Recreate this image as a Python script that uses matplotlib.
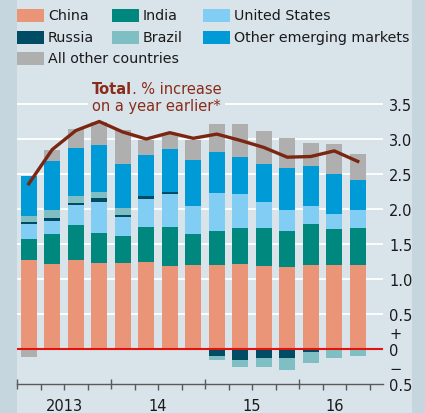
import matplotlib
matplotlib.use('Agg')
import matplotlib.pyplot as plt
import numpy as np
from matplotlib.patches import Rectangle
import matplotlib.transforms as mtransforms

# ---------------- data ----------------
quarters = ['2013Q1', '2013Q2', '2013Q3', '2013Q4',
            '2014Q1', '2014Q2', '2014Q3', '2014Q4',
            '2015Q1', '2015Q2', '2015Q3', '2015Q4',
            '2016Q1', '2016Q2', '2016Q3']
year_labels = ['2013', '14', '15', '16']
year_of_quarter = [0, 0, 0, 0, 1, 1, 1, 1, 2, 2, 2, 2, 3, 3, 3]

china = [1.27, 1.21, 1.27, 1.23, 1.23, 1.24, 1.19, 1.20, 1.20, 1.21, 1.19, 1.17, 1.20, 1.20, 1.20]
india = [0.30, 0.44, 0.50, 0.43, 0.39, 0.51, 0.56, 0.44, 0.49, 0.52, 0.54, 0.52, 0.59, 0.51, 0.53]
united_states = [0.22, 0.18, 0.29, 0.44, 0.27, 0.40, 0.47, 0.40, 0.54, 0.49, 0.37, 0.30, 0.26, 0.22, 0.26]
russia = [0.02, 0.04, 0.03, 0.06, 0.03, 0.03, 0.03, 0.00, -0.10, -0.16, -0.13, -0.13, -0.04, -0.02, 0.00]
brazil = [0.09, 0.11, 0.09, 0.09, 0.10, -0.015, -0.015, 0.00, -0.06, -0.09, -0.13, -0.17, -0.16, -0.11, -0.10]
other_emerging = [0.57, 0.70, 0.69, 0.67, 0.62, 0.59, 0.61, 0.66, 0.59, 0.53, 0.54, 0.59, 0.56, 0.57, 0.43]
all_other = [-0.11, 0.17, 0.28, 0.33, 0.49, 0.22, 0.21, 0.29, 0.39, 0.46, 0.47, 0.44, 0.33, 0.43, 0.36]
total = [2.36, 2.85, 3.12, 3.25, 3.10, 3.00, 3.09, 3.01, 3.07, 2.98, 2.88, 2.74, 2.75, 2.83, 2.68]

ytick_values = [-0.5, 0, 0.5, 1.0, 1.5, 2.0, 2.5, 3.0, 3.5]
ytick_labels = ['0.5', '0', '0.5', '1.0', '1.5', '2.0', '2.5', '3.0', '3.5']

series_names = ['China', 'India', 'United States', 'Russia', 'Brazil',
                'Other emerging markets', 'All other countries']
series_values = [china, india, united_states, russia, brazil, other_emerging, all_other]
series_colors = ['#ea9577', '#00877e', '#82cdf3', '#004c64', '#7fbfc4', '#009ad6', '#afafaf']

# ---------------- style ----------------
BG = '#d8e3ea'
STRIP = '#c5d6df'
TXT = '#1a1a1a'
LINE_COL = '#7b2611'
TITLE_COL = '#8a2c19'
plt.rcParams['font.family'] = ['DejaVu Sans']
FS = 10.5
FS_LEG = 10.3

W, H = 425, 414
fig = plt.figure(figsize=(W / 100, H / 100), dpi=100)
fig.patch.set_facecolor(BG)
fig.add_artist(Rectangle((0, 0), 17 / W, 1, transform=fig.transFigure,
                         facecolor=STRIP, edgecolor='none', zorder=0))
fig.add_artist(Rectangle((412 / W, 0), 13 / W, 1, transform=fig.transFigure,
                         facecolor=STRIP, edgecolor='none', zorder=0))

ax = fig.add_axes([17 / W, 29 / H, 366 / W, 297.5 / H])
ax.set_facecolor('none')

x = np.arange(len(quarters))
pos_base = np.zeros(len(x))
neg_base = np.zeros(len(x))
for name, vals, col in zip(series_names, series_values, series_colors):
    v = np.array(vals, dtype=float)
    p = np.where(v > 0, v, 0.0)
    n = np.where(v < 0, v, 0.0)
    ax.bar(x, p, bottom=pos_base, width=0.68, color=col, edgecolor='none', zorder=2)
    ax.bar(x, n, bottom=neg_base, width=0.68, color=col, edgecolor='none', zorder=2)
    pos_base += p
    neg_base += n

ax.axhline(0, color='#e3120b', lw=1.5, zorder=3)
ax.plot(x, total, color=LINE_COL, lw=2.4, zorder=4, solid_joinstyle='round')

ax.set_xlim(-0.5, -0.5 + 366 / 23.5)
ax.set_ylim(-0.5, 3.75)

# grid and y labels
ax.set_yticks(ytick_values)
ax.set_yticklabels(ytick_labels)
ax.yaxis.tick_right()
ax.tick_params(axis='y', length=0, pad=4.5, labelsize=FS, labelcolor=TXT)
for gv in ytick_values:
    if gv > 0:
        ax.axhline(gv, color='white', lw=1.3, zorder=1)
sign_tr = (mtransforms.blended_transform_factory(ax.transAxes, ax.transData)
           + mtransforms.ScaledTranslation(6.5 / 100, 0, fig.dpi_scale_trans))
ax.text(1.0, 0.22, '+', transform=sign_tr, ha='left', va='center', fontsize=FS, color=TXT)
ax.text(1.0, -0.28, '\u2212', transform=sign_tr, ha='left', va='center', fontsize=FS, color=TXT)

# x axis
for s in ['top', 'left', 'right']:
    ax.spines[s].set_visible(False)
ax.spines['bottom'].set_color('#5a5a5a')
ax.spines['bottom'].set_linewidth(1.0)
year_bounds = [-0.5, 3.5, 7.5, 11.5]
ax.set_xticks(year_bounds)
ax.set_xticklabels([])
ax.set_xticks([q + 0.5 for q in range(len(quarters)) if (q + 0.5) not in year_bounds], minor=True)
ax.tick_params(axis='x', which='major', length=7.5, width=1.0, color='#5a5a5a', direction='inout')
ax.tick_params(axis='x', which='minor', length=4.0, width=1.0, color='#5a5a5a', direction='out')
ax.tick_params(axis='x', which='both', labelbottom=False)
year_tr = ax.transData + mtransforms.ScaledTranslation(0, -14 / 100, fig.dpi_scale_trans)
for yi, lab in enumerate(year_labels):
    xs = [xx for xx, yy in zip(x, year_of_quarter) if yy == yi]
    ax.text(np.mean(xs), -0.5, lab, transform=year_tr,
            ha='center', va='top', fontsize=FS, color=TXT)

# legend
col_x = [17, 112, 203]
row_y = [16, 38, 59]
positions = [(0, 0), (1, 0), (2, 0), (0, 1), (1, 1), (2, 1), (0, 2)]
for (ci, ri), name, col in zip(positions, series_names, series_colors):
    px, py = col_x[ci], row_y[ri]
    fig.add_artist(Rectangle((px / W, 1 - (py + 6.5) / H), 27 / W, 13 / H,
                             transform=fig.transFigure, facecolor=col, edgecolor='none'))
    fig.text((px + 31) / W, 1 - py / H, name, ha='left', va='center', fontsize=FS_LEG, color=TXT)

# title inside chart
t1 = fig.text(92 / W, 1 - 90 / H, 'Total', ha='left', va='center', fontsize=FS,
              fontweight='bold', color=TITLE_COL, zorder=5)
ax.annotate(', % increase', xy=(1, 0), xycoords=t1, ha='left', va='bottom',
            fontsize=FS, color=TITLE_COL)
fig.text(92 / W, 1 - 107 / H, 'on a year earlier*', ha='left', va='center', fontsize=FS,
         color=TITLE_COL, zorder=5,
         bbox=dict(facecolor=BG, edgecolor='none', pad=3))

fig.savefig('out.png', dpi=100, facecolor=BG)
